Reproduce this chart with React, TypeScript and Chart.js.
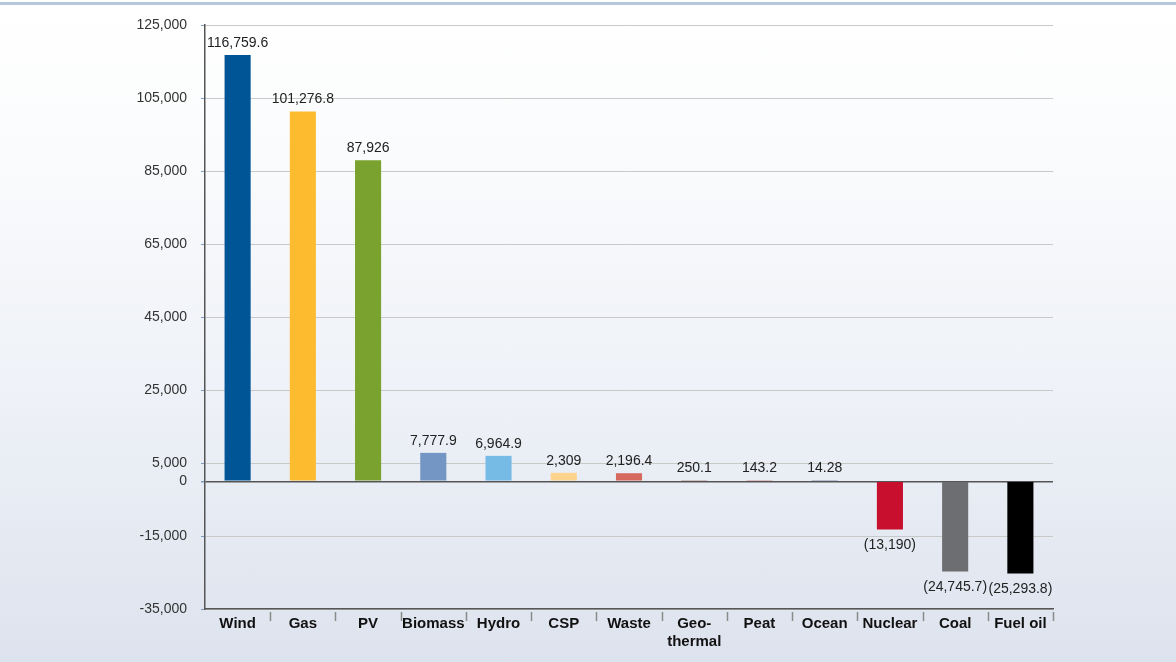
import React, { useEffect, useRef } from "react";
import { Chart, registerables } from "chart.js";

Chart.register(...registerables);

const categories: (string | string[])[] = ["Wind", "Gas", "PV", "Biomass", "Hydro", "CSP", "Waste", ["Geo-", "thermal"], "Peat", "Ocean", "Nuclear", "Coal", "Fuel oil"];
const values: number[] = [116759.6, 101276.8, 87926, 7777.9, 6964.9, 2309, 2196.4, 250.1, 143.2, 14.28, -13190, -24745.7, -25293.8];
const barColors: string[] = ["#005596", "#fdbb30", "#7aa22e", "#7396c4", "#76bbe6", "#fdd38d", "#d6695e", "#8b3a2b", "#b8322e", "#1f3f6f", "#c8102e", "#6d6e71", "#000000"];
const yTicks: number[] = [-35000, -15000, 0, 5000, 25000, 45000, 65000, 85000, 105000, 125000];

const FONT = "'Liberation Sans', Arial, sans-serif";

function fmt(v: number): string {
  const s = Math.abs(v).toLocaleString("en-US", { maximumFractionDigits: 2 });
  return v < 0 ? `(${s})` : s;
}

const valueLabels = {
  id: "valueLabels",
  afterDatasetsDraw(chart: any) {
    const ctx = chart.ctx;
    const meta = chart.getDatasetMeta(0);
    ctx.save();
    ctx.font = `14px ${FONT}`;
    ctx.fillStyle = "#222";
    ctx.textAlign = "center";
    meta.data.forEach((bar: any, i: number) => {
      const v = values[i];
      if (v >= 0) {
        ctx.textBaseline = "bottom";
        ctx.fillText(fmt(v), bar.x, bar.y - 5);
      } else {
        ctx.textBaseline = "top";
        ctx.fillText(fmt(v), bar.x, bar.y + 9);
      }
    });
    ctx.restore();
  },
};

const categoryMarks = {
  id: "categoryMarks",
  afterDraw(chart: any) {
    const ctx = chart.ctx;
    const x = chart.scales.x;
    const bottom = chart.chartArea.bottom;
    const n = categories.length;
    ctx.save();
    ctx.strokeStyle = "#8a8a8a";
    ctx.lineWidth = 1.5;
    for (let i = 1; i <= n; i++) {
      const px = i < n ? (x.getPixelForValue(i - 1) + x.getPixelForValue(i)) / 2 : chart.chartArea.right;
      ctx.beginPath();
      ctx.moveTo(Math.round(px) + 0.5, bottom + 3);
      ctx.lineTo(Math.round(px) + 0.5, bottom + 12);
      ctx.stroke();
    }
    ctx.restore();
  },
};

export default function App() {
  const ref = useRef<HTMLCanvasElement>(null);
  useEffect(() => {
    if (!ref.current) return;
    const chart = new Chart(ref.current, {
      type: "bar",
      data: {
        labels: categories as any,
        datasets: [
          {
            data: values,
            backgroundColor: barColors,
            borderWidth: 0,
            barPercentage: 0.4,
            categoryPercentage: 1,
            minBarLength: 1,
          },
        ],
      },
      options: {
        responsive: false,
        animation: false,
        layout: { padding: { left: 0, right: 123, top: 25, bottom: 0 } },
        plugins: { legend: { display: false }, tooltip: { enabled: false } },
        scales: {
          x: {
            offset: true,
            grid: { display: false },
            border: { color: "#555", width: 1.5 },
            ticks: {
              font: { family: FONT, size: 15, weight: "bold" },
              color: "#111",
              padding: -2,
              maxRotation: 0,
              autoSkip: false,
            },
            afterFit: (s: any) => {
              s.height = 53;
            },
          },
          y: {
            min: -35000,
            max: 125000,
            afterBuildTicks: (s: any) => {
              s.ticks = yTicks.map((v) => ({ value: v }));
            },
            grid: {
              color: (c: any) => (c.tick && c.tick.value === 0 ? "#555" : "#c9c9c9"),
              lineWidth: (c: any) => (c.tick && c.tick.value === 0 ? 1.5 : 1),
              tickColor: "#7a9cc6",
              tickLength: 4,
            },
            border: { color: "#555", width: 1.5 },
            ticks: {
              font: { family: FONT, size: 14 },
              color: "#333",
              padding: 14,
              callback: (v: any) => Number(v).toLocaleString("en-US"),
            },
            afterFit: (s: any) => {
              s.width = 205;
            },
          },
        },
      },
      plugins: [valueLabels, categoryMarks],
    });
    return () => chart.destroy();
  }, []);

  return (
    <div
      style={{
        position: "absolute",
        left: 0,
        top: 0,
        width: 1176,
        height: 662,
        background: "linear-gradient(to bottom, #ffffff 0%, #fbfcfd 20%, #eef1f7 60%, #dde3ee 100%)",
        overflow: "hidden",
      }}
    >
      <div style={{ position: "absolute", left: 0, top: 2, width: 1176, height: 3, background: "#b4c7dc" }} />
      <canvas ref={ref} width={1176} height={662} style={{ position: "absolute", left: 0, top: 0 }} />
    </div>
  );
}
